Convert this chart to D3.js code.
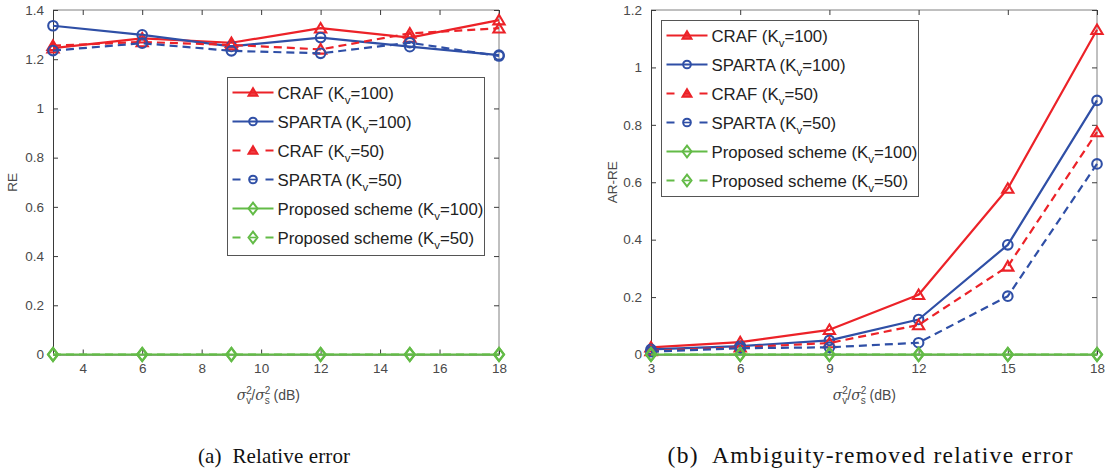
<!DOCTYPE html>
<html>
<head>
<meta charset="utf-8">
<script src="https://cdn.jsdelivr.net/npm/d3@7"></script>
<style>
  html, body { margin: 0; padding: 0; background: #fff; }
  svg { display: block; }
</style>
</head>
<body>
<svg id="fig" width="1105" height="472"></svg>
<script>
// SNR values (dB) shared by both panels
const snrDb = [3, 6, 9, 12, 15, 18];

// (a) relative error
const reCraf100   = [1.245, 1.285, 1.267, 1.326, 1.288, 1.359];
const reSparta100 = [1.336, 1.299, 1.252, 1.288, 1.251, 1.217];
const reCraf50    = [1.255, 1.270, 1.258, 1.240, 1.305, 1.326];
const reSparta50  = [1.235, 1.265, 1.234, 1.224, 1.267, 1.213];
const reProp100   = [0, 0, 0, 0, 0, 0];
const reProp50    = [0, 0, 0, 0, 0, 0];

// (b) ambiguity-removed relative error
const arCraf100   = [0.025, 0.043, 0.086, 0.208, 0.578, 1.131];
const arSparta100 = [0.018, 0.029, 0.049, 0.122, 0.382, 0.885];
const arCraf50    = [0.012, 0.025, 0.040, 0.103, 0.307, 0.775];
const arSparta50  = [0.010, 0.022, 0.025, 0.041, 0.203, 0.664];
const arProp100   = [0, 0, 0, 0, 0, 0];
const arProp50    = [0, 0, 0, 0, 0, 0];

// tick values
const xTicksA = [4, 6, 8, 10, 12, 14, 16, 18];
const yTicksA = [0, 0.2, 0.4, 0.6, 0.8, 1, 1.2, 1.4];
const xTicksB = [3, 6, 9, 12, 15, 18];
const yTicksB = [0, 0.2, 0.4, 0.6, 0.8, 1, 1.2];

// legend entries: method name and K_v value
const seriesNames = ["CRAF", "SPARTA", "CRAF", "SPARTA", "Proposed scheme", "Proposed scheme"];
const seriesK     = ["100", "100", "50", "50", "100", "50"];

const RED = "#ec2228", BLUE = "#2f4fa6", GREEN = "#63bb47";
const styles = [
  {color: RED,   dash: null,  marker: "tri"},
  {color: BLUE,  dash: null,  marker: "circ"},
  {color: RED,   dash: "8,5", marker: "tri"},
  {color: BLUE,  dash: "8,5", marker: "circ"},
  {color: GREEN, dash: null,  marker: "dia"},
  {color: GREEN, dash: "8,5", marker: "dia"}
];

const AX_DARK = "#3a3a3a", AX_LIGHT = "#808080", TXT = "#4a4a4a";
const FONT = "'Liberation Sans', Arial, Helvetica, sans-serif";
const SERIF = "'Liberation Serif', 'Times New Roman', serif";

const svg = d3.select("#fig");

function markerPath(type, s) {
  if (type === "tri") {
    const w = 5.6 * s, h = 9.5 * s;
    return `M0,${-h / 2 - 0.5}L${w},${h / 2 - 0.5}L${-w},${h / 2 - 0.5}Z`;
  }
  if (type === "dia") {
    const w = 5 * s, h = 6.5 * s;
    return `M0,${-h}L${w},0L0,${h}L${-w},0Z`;
  }
  const r = 4.8 * s;
  return `M${r},0A${r},${r} 0 1,1 ${-r},0A${r},${r} 0 1,1 ${r},0Z`;
}

function drawPanel(p) {
  const x = d3.scaleLinear().domain([3, 18]).range([p.left, p.right]);
  const y = d3.scaleLinear().domain([0, p.ymax]).range([p.bottom, p.top]);
  const g = svg.append("g");

  // box (light top/right, darker left/bottom)
  g.append("line").attr("x1", p.left).attr("x2", p.right).attr("y1", p.top).attr("y2", p.top)
    .attr("stroke", AX_LIGHT).attr("stroke-width", 1);
  g.append("line").attr("x1", p.right).attr("x2", p.right).attr("y1", p.top).attr("y2", p.bottom)
    .attr("stroke", AX_LIGHT).attr("stroke-width", 1);

  // axes with inward ticks on all four sides
  const tk = 5;
  const bottomAxis = d3.axisBottom(x).tickValues(p.xTicks).tickSizeInner(-tk).tickSizeOuter(0)
    .tickPadding(9).tickFormat(d3.format("d"));
  const leftAxis = d3.axisLeft(y).tickValues(p.yTicks).tickSizeInner(-tk).tickSizeOuter(0)
    .tickPadding(9).tickFormat(d => d === 0 ? "0" : d3.format("~g")(d));
  const topAxis = d3.axisTop(x).tickValues(p.xTicks).tickSizeInner(-tk).tickSizeOuter(0).tickFormat("");
  const rightAxis = d3.axisRight(y).tickValues(p.yTicks).tickSizeInner(-tk).tickSizeOuter(0).tickFormat("");

  const gb = g.append("g").attr("transform", `translate(0,${p.bottom})`).call(bottomAxis);
  const gl = g.append("g").attr("transform", `translate(${p.left},0)`).call(leftAxis);
  const gt = g.append("g").attr("transform", `translate(0,${p.top})`).call(topAxis);
  const gr = g.append("g").attr("transform", `translate(${p.right},0)`).call(rightAxis);
  [gb, gl].forEach(a => {
    a.select(".domain").attr("stroke", AX_DARK);
    a.selectAll(".tick line").attr("stroke", AX_DARK);
    a.selectAll("text").attr("fill", TXT).style("font-family", FONT).style("font-size", "13.5px");
  });
  [gt, gr].forEach(a => {
    a.select(".domain").remove();
    a.selectAll(".tick line").attr("stroke", AX_DARK);
  });

  // y-axis title
  g.append("text").attr("transform", `translate(${p.ylabX},${(p.top + p.bottom) / 2}) rotate(-90)`)
    .attr("text-anchor", "middle").attr("fill", TXT)
    .style("font-family", FONT).style("font-size", "13.5px").text(p.ylabel);

  // x-axis title: sigma_v^2 / sigma_s^2 (dB)
  const xl = g.append("text").attr("y", 400).attr("fill", TXT)
    .style("font-family", FONT).style("font-size", "14px");
  xl.append("tspan").style("font-family", "'DejaVu Serif', serif").style("font-style", "italic").text("σ");
  xl.append("tspan").attr("dy", -6).style("font-size", "10px").text("2");
  xl.append("tspan").attr("dx", -5.6).attr("dy", 10).style("font-size", "10px").text("v");
  xl.append("tspan").attr("dy", -4).text("/");
  xl.append("tspan").style("font-family", "'DejaVu Serif', serif").style("font-style", "italic").text("σ");
  xl.append("tspan").attr("dy", -6).style("font-size", "10px").text("2");
  xl.append("tspan").attr("dx", -5.6).attr("dy", 10).style("font-size", "10px").text("s");
  xl.append("tspan").attr("dy", -4).text(" (dB)");
  const w = xl.node().getComputedTextLength();
  xl.attr("x", p.xlabCx - w / 2);

  // data lines and markers
  const line = d3.line().x((d, i) => x(snrDb[i])).y(d => y(d));
  p.series.forEach((vals, k) => {
    const st = styles[k];
    g.append("path").datum(vals).attr("d", line).attr("fill", "none")
      .attr("stroke", st.color).attr("stroke-width", 2.2)
      .attr("stroke-dasharray", st.dash).attr("stroke-linejoin", "round");
    g.selectAll(null).data(vals).join("path")
      .attr("transform", (d, i) => `translate(${x(snrDb[i])},${y(d)})`)
      .attr("d", markerPath(st.marker, 1))
      .attr("fill", "none").attr("stroke", st.color).attr("stroke-width", 2.1);
  });

  // legend
  const L = p.legend;
  g.append("rect").attr("x", L.x).attr("y", L.y).attr("width", L.w).attr("height", L.h)
    .attr("fill", "#fff").attr("stroke", "#555").attr("stroke-width", 1);
  styles.forEach((st, k) => {
    const cy = L.y + 15 + k * 29;
    const x0 = L.x + 5, x1 = L.x + 46, xm = (x0 + x1) / 2;
    g.append("line").attr("x1", x0).attr("x2", x1).attr("y1", cy).attr("y2", cy)
      .attr("stroke", st.color).attr("stroke-width", 2.2)
      .attr("stroke-dasharray", st.dash ? "8,25" : null);
    if (st.dash) {
      // short stroke through the marker centre
      g.append("line").attr("x1", xm - 3).attr("x2", xm + 3).attr("y1", cy).attr("y2", cy)
        .attr("stroke", st.color).attr("stroke-width", 1.6);
    }
    const tri = st.marker === "tri";
    g.append("path").attr("transform", `translate(${xm},${cy})`)
      .attr("d", markerPath(st.marker, st.marker === "circ" ? 0.8 : (tri ? 0.8 : 0.9)))
      .attr("fill", tri ? st.color : "none").attr("fill-opacity", tri ? 0.85 : null)
      .attr("stroke", st.color).attr("stroke-width", 2);
    const t = g.append("text").attr("x", x1 + 4).attr("y", cy + 6).attr("fill", "#222")
      .style("font-family", FONT).style("font-size", "16.8px");
    t.append("tspan").text(seriesNames[k] + " (K");
    t.append("tspan").attr("dy", 5).style("font-size", "11.5px").text("v");
    t.append("tspan").attr("dy", -5).text("=" + seriesK[k] + ")");
  });

  // caption
  const cap = svg.append("text").attr("x", p.xlabCx).attr("y", 463).attr("text-anchor", "middle")
    .attr("fill", "#111").style("font-family", SERIF)
    .style("font-size", p.capSize + "px").style("white-space", "pre").text(p.caption);
  if (p.capWidth) cap.attr("textLength", p.capWidth).attr("lengthAdjust", "spacing");
}

drawPanel({
  left: 53, right: 499, top: 10, bottom: 354.5, ymax: 1.4,
  xTicks: xTicksA, yTicks: yTicksA, ylabel: "RE", ylabX: 17, xlabCx: 274,
  series: [reCraf100, reSparta100, reCraf50, reSparta50, reProp100, reProp50],
  legend: {x: 227.5, y: 77.5, w: 257, h: 178},
  caption: "(a)  Relative error", capSize: 21, capWidth: 152
});

drawPanel({
  left: 651, right: 1097, top: 10, bottom: 354.5, ymax: 1.2,
  xTicks: xTicksB, yTicks: yTicksB, ylabel: "AR-RE", ylabX: 617, xlabCx: 870,
  series: [arCraf100, arSparta100, arCraf50, arSparta50, arProp100, arProp50],
  legend: {x: 661.5, y: 20.5, w: 257, h: 176},
  caption: "(b)  Ambiguity-removed relative error", capSize: 23.5, capWidth: 405
});
</script>
</body>
</html>
